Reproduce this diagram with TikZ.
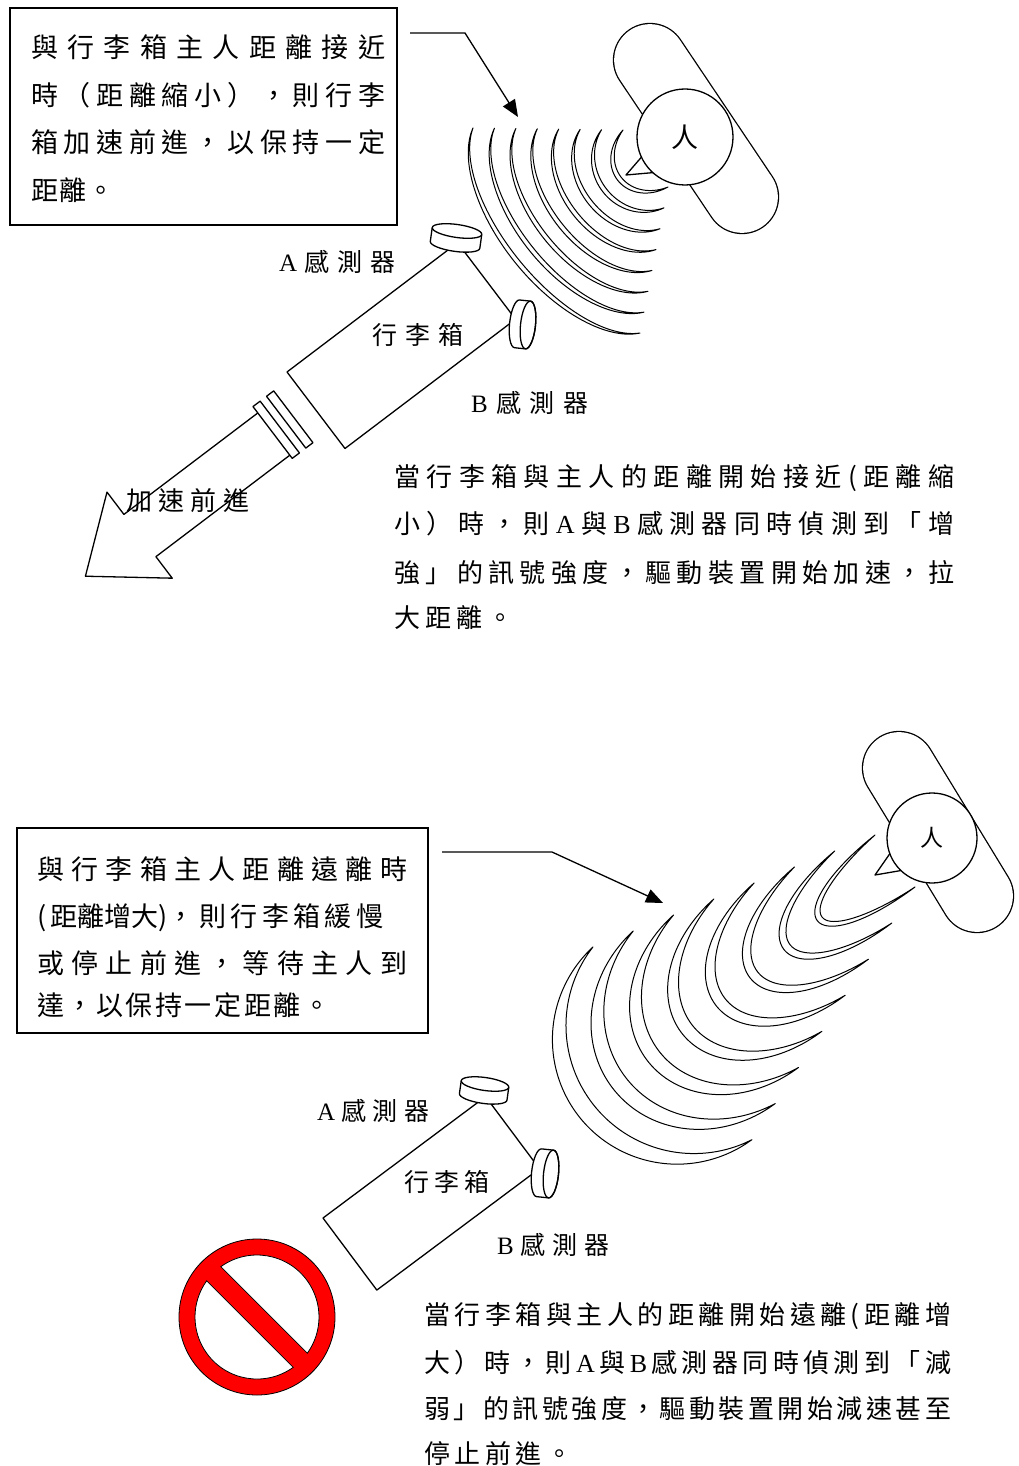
\documentclass[tikz,border=0pt]{standalone}
\usepackage{fontspec}
\newfontfamily\cjk{Noto Sans CJK TC}
\newfontfamily\lat{Liberation Serif}
\usetikzlibrary{arrows.meta}

% spread the glyphs of one line evenly over a given width
\makeatletter
\def\jl@first#1{{#1}\jl@loop}
\def\jl@loop#1{\ifx\relax#1\else\hfill{#1}\expandafter\jl@loop\fi}
\newcommand\jline[2]{\makebox[#1][l]{\jl@first#2\relax}}
\makeatother

% one crescent-shaped wave: tips (#1,#2) and (#3,#4), depth #5, half thickness #6, sweep #7
\newcommand\crescent[7]{%
  \pgfmathsetmacro\cEx{((#3)-(#1))/2}%
  \pgfmathsetmacro\cEy{((#4)-(#2))/2}%
  \pgfmathsetmacro\cH{veclen(\cEx,\cEy)}%
  \pgfmathsetmacro\cUx{\cEx/\cH}%
  \pgfmathsetmacro\cUy{\cEy/\cH}%
  \pgfmathsetmacro\cD{(#5)/(1-cos(#7))}%
  \pgfmathsetmacro\cHp{\cH/sin(#7)}%
  \pgfmathsetmacro\cMx{((#1)+(#3))/2+\cD*cos(#7)*\cUy}%
  \pgfmathsetmacro\cMy{((#2)+(#4))/2-\cD*cos(#7)*\cUx}%
  \draw[wave] plot[variable=\t,domain=-#7:#7,samples=41,smooth] ({\cMx-(\cD+(#6)*cos(90*\t/(#7)))*cos(\t)*\cUy+(\cHp+(#6)*cos(90*\t/(#7)))*sin(\t)*\cUx},{\cMy+(\cD+(#6)*cos(90*\t/(#7)))*cos(\t)*\cUx+(\cHp+(#6)*cos(90*\t/(#7)))*sin(\t)*\cUy})
    -- plot[variable=\t,domain=#7:-#7,samples=41,smooth] ({\cMx-(\cD-(#6)*cos(90*\t/(#7)))*cos(\t)*\cUy+(\cHp-(#6)*cos(90*\t/(#7)))*sin(\t)*\cUx},{\cMy+(\cD-(#6)*cos(90*\t/(#7)))*cos(\t)*\cUx+(\cHp-(#6)*cos(90*\t/(#7)))*sin(\t)*\cUy})
    -- cycle;}

% upright sensor disc (A): #1 centre of top face, #2 tilt, #3 radius, #4 height
\newcommand\sensorup[4]{%
  \begin{scope}[shift={#1},rotate=#2]
    \filldraw[outline,fill=white] (-#3,0) arc[start angle=180,end angle=360,x radius=#3,y radius=6.5]
      -- (#3,#4) arc[start angle=0,end angle=180,x radius=#3,y radius=6.5] -- cycle;
    \draw[outline] (-#3,0) arc[start angle=180,end angle=0,x radius=#3,y radius=6.5];
  \end{scope}}
% sideways sensor disc (B): #1 centre of front face, #2 tilt, #3 depth
\newcommand\sensorside[3]{%
  \begin{scope}[shift={#1},rotate=#2]
    \filldraw[outline,fill=white] (0,-24) -- (-#3,-24) arc[start angle=270,end angle=90,x radius=7.5,y radius=24]
      -- (0,24) arc[start angle=90,end angle=-90,x radius=7.5,y radius=24] -- cycle;
    \draw[outline] (0,0) ellipse[x radius=7.5,y radius=24];
  \end{scope}}

\begin{document}
\begin{tikzpicture}[x=1pt,y=-1pt,
  outline/.style={line width=1.3pt,line join=round},
  frame/.style={line width=1.4pt},
  wave/.style={line width=1pt,line join=round},
  boxtxt/.style={anchor=base west,inner sep=0pt,font=\cjk\fontsize{27}{27}\selectfont},
  paratxt/.style={anchor=base west,inner sep=0pt,font=\cjk\fontsize{26}{26}\selectfont},
  lbl/.style={anchor=base west,inner sep=0pt,font=\cjk\fontsize{25}{25}\selectfont},
  pointer/.style={line width=1.3pt,-{Triangle[length=17pt,width=14pt]}},
  head/.style={circle,draw,fill=white,line width=1.3pt,inner sep=0pt},
  shoulders/.style={line width=74.3pt,line cap=round},
  shouldersin/.style={white,line width=71.7pt,line cap=round}]
\useasboundingbox (0,0) rectangle (1018,1466);
\fill[white] (0,0) rectangle (1018,1466);

% ================= upper panel: owner approaching =================
\draw[frame] (10,8) rectangle (397,225);
\node[boxtxt] (noteA1) at (31,57.8) {\jline{354pt}{與行李箱主人距離接近}};
\node[boxtxt] (noteA2) at (31,105.3) {\jline{354pt}{時（距離縮小），則行李}};
\node[boxtxt] (noteA3) at (31,152.8) {\jline{354pt}{箱加速前進，以保持一定}};
\node[boxtxt] (noteA4) at (31,200.3) {\jline{83pt}{距離。}};

\coordinate (ptrAstart) at (410,33);
\coordinate (ptrAbend) at (465,33);
\coordinate (ptrAend) at (518,117);
\draw[pointer] (ptrAstart) -- (ptrAbend) -- (ptrAend);

% owner seen from above
\draw[shoulders] (650,60) -- (742,197);
\draw[shouldersin] (650,60) -- (742,197);
\filldraw[outline,fill=white] (645,153) -- (626,175) -- (660,172) -- cycle;
\node[head,minimum size=96pt,font=\cjk\fontsize{27}{27}\selectfont] (headA) at (685,137) {\raisebox{-3pt}{人}};

% signal waves
\foreach \k in {0,...,7}{
  \pgfmathsetmacro\wAx{623-21.43*\k}
  \pgfmathsetmacro\wAy{130-0.3*\k}
  \pgfmathsetmacro\wBx{668-4*\k}
  \pgfmathsetmacro\wBy{187+20.86*\k}
  \pgfmathsetmacro\wDep{33+2.43*\k}
  \crescent{\wAx}{\wAy}{\wBx}{\wBy}{\wDep}{2.3}{75}
}

% suitcase with forward arrow (frame along the case)
\begin{scope}[shift={(287,372)},x={(0.797pt,0.604pt)},y={(0.604pt,-0.797pt)}]
  \draw[outline] (0,0) -- (214,0) -- (214,96) -- (0,96) -- cycle;
  \draw[outline] (-31,7) -- (-22,7) -- (-22,72) -- (-31,72) -- cycle;
  \draw[outline] (-48,7) -- (-39,7) -- (-39,72) -- (-48,72) -- cycle;
  \draw[outline] (-48,15) -- (-216,15) -- (-216,-13) -- (-284,41) -- (-216,95) -- (-216,68) -- (-48,68);
\end{scope}
\sensorup{(457,231)}{-8}{25}{14}
\sensorside{(528,325)}{-6}{11}

\node[lbl] (labAa) at (279,271.5) {\jline{116pt}{{\lat A}感測器}};
\node[lbl] (labAcase) at (372,344.5) {\jline{91pt}{行李箱}};
\node[lbl] (labAb) at (471,412.5) {\jline{117pt}{{\lat B}感測器}};
\node[paratxt] (labAgo) at (126,510) {\jline{123pt}{加速前進}};

\node[paratxt] (parA1) at (394,486) {\jline{560pt}{當行李箱與主人的距離開始接近(距離縮}};
\node[paratxt] (parA2) at (394,533) {\jline{560pt}{小）時，則{\lat A}與{\lat B}感測器同時偵測到「增}};
\node[paratxt] (parA3) at (394,582) {\jline{560pt}{強」的訊號強度，驅動裝置開始加速，拉}};
\node[paratxt] (parA4) at (394,627) {\jline{119pt}{大距離。}};

% ================= lower panel: owner falling behind =================
\draw[frame] (17,828) rectangle (428,1033);
\node[boxtxt] (noteB1) at (37,879.3) {\jline{370pt}{與行李箱主人距離遠離時}};
\node[boxtxt] (noteB2) at (37,926.3) {\jline{346pt}{{(\,距離增大)，}則行李箱緩慢}};
\node[boxtxt] (noteB3) at (37,973.3) {\jline{370pt}{或停止前進，等待主人到}};
\node[boxtxt] (noteB4) at (37,1015.3) {\jline{293pt}{達，以保持一定距離。}};

\coordinate (ptrBstart) at (442,852);
\coordinate (ptrBbend) at (552,852);
\coordinate (ptrBend) at (663,903);
\draw[pointer] (ptrBstart) -- (ptrBbend) -- (ptrBend);

\draw[shoulders] (899,768) -- (977,896);
\draw[shouldersin] (899,768) -- (977,896);
\filldraw[outline,fill=white] (891,852) -- (875,875) -- (904,870) -- cycle;
\node[head,minimum size=90pt,font=\cjk\fontsize{23}{23}\selectfont] (headB) at (932,838) {\raisebox{-2pt}{人}};

\foreach \k in {0,...,7}{
  \pgfmathsetmacro\wAx{875-40.3*\k}
  \pgfmathsetmacro\wAy{835+16*\k}
  \pgfmathsetmacro\wBx{915-23.3*\k}
  \pgfmathsetmacro\wBy{887+36.1*\k}
  \pgfmathsetmacro\wDep{95+2*\k}
  \pgfmathsetmacro\wThk{3+0.9*\k}
  \crescent{\wAx}{\wAy}{\wBx}{\wBy}{\wDep}{\wThk}{82}
}

\begin{scope}[shift={(323,1218)},x={(0.801pt,0.598pt)},y={(0.598pt,-0.801pt)}]
  \draw[outline] (0,0) -- (203,0) -- (203,90) -- (0,90) -- cycle;
\end{scope}
\sensorup{(485,1084)}{-8}{24}{13}
\sensorside{(551,1174)}{-6}{12}

\node[lbl] (labBa) at (317,1120.5) {\jline{112pt}{{\lat A}感測器}};
\node[lbl] (labBcase) at (404,1191.5) {\jline{85pt}{行李箱}};
\node[lbl] (labBb) at (497,1254.5) {\jline{112pt}{{\lat B}感測器}};

% no-entry sign
\coordinate (sign) at (257,1317);
\filldraw[fill=red,draw=black,line width=0.8pt] (sign) circle[radius=78];
\filldraw[fill=white,draw=black,line width=0.8pt] ([shift={(sign)}]-125.72:62) arc[start angle=-125.72,end angle=35.72,radius=62] -- cycle;
\filldraw[fill=white,draw=black,line width=0.8pt] ([shift={(sign)}]54.28:62) arc[start angle=54.28,end angle=215.72,radius=62] -- cycle;

\node[paratxt] (parB1) at (424,1324) {\jline{527pt}{當行李箱與主人的距離開始遠離(距離增}};
\node[paratxt] (parB2) at (424,1372) {\jline{527pt}{大）時，則{\lat A}與{\lat B}感測器同時偵測到「減}};
\node[paratxt] (parB3) at (424,1418) {\jline{527pt}{弱」的訊號強度，驅動裝置開始減速甚至}};
\node[paratxt] (parB4) at (424,1463) {\jline{148pt}{停止前進。}};
\end{tikzpicture}
\end{document}
